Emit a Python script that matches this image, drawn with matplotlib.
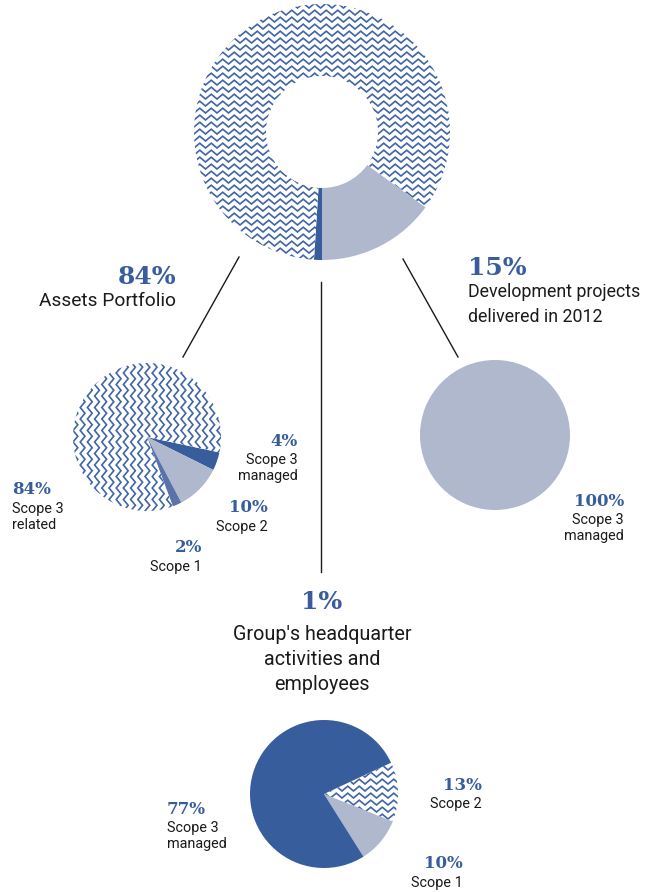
import numpy as np
import matplotlib
matplotlib.use("Agg")
from matplotlib import pyplot as plt
from matplotlib.lines import Line2D

W, H = 655, 892

DARK = "#385d9c"
MID = "#5a72aa"
GREY = "#b0b8ce"
ZIG = "#4065a5"
INK = "#1a1a1a"

# overall split of the footprint
total_shares = [1, 15, 84]          # headquarter, development, assets
# assets portfolio breakdown (clockwise from the right)
assets_shares = [4, 10, 2, 84]      # scope 3 managed, scope 2, scope 1, scope 3 related
# development projects
dev_shares = [100]
# headquarter breakdown (clockwise)
hq_shares = [13, 10, 77]            # scope 2, scope 1, scope 3 managed

fig = plt.figure(figsize=(W / 100, H / 100), dpi=100)
ax = fig.add_axes([0, 0, 1, 1])


def py(y):
    # pixel row -> axis coordinate
    return H - y


def zigzag(wedge, x0, x1, y0, y1, gap=7.0, period=11.5, amp=4.8, vertical=False):
    wedge.set_facecolor("white")
    t = np.arange(0, (y1 - y0 if vertical else x1 - x0) + period, period / 2)
    off = np.where(np.arange(len(t)) % 2 == 0, 0.0, amp)
    if vertical:
        for c in np.arange(x0, x1 + gap, gap):
            ln = Line2D(c + off, y0 + t, color=ZIG, lw=1.2, solid_joinstyle="miter")
            ax.add_line(ln)
            ln.set_clip_path(wedge)
    else:
        for r in np.arange(y0, y1 + gap, gap):
            ln = Line2D(x0 + t, r + off, color=ZIG, lw=1.2, solid_joinstyle="miter")
            ax.add_line(ln)
            ln.set_clip_path(wedge)


# top donut
cx, cy, r = 322, py(132), 128
w_top, _ = ax.pie(total_shares, colors=[DARK, GREY, "white"], startangle=-90 - 3.6,
                  counterclock=True, center=(cx, cy), radius=r,
                  wedgeprops=dict(width=72, linewidth=0))
zigzag(w_top[2], cx - r, cx + r, cy - r, cy + r)

# assets portfolio pie
cx, cy, r = 147, py(437), 74
w_as, _ = ax.pie(assets_shares, colors=[DARK, GREY, MID, "white"], startangle=-12,
                 counterclock=False, center=(cx, cy), radius=r,
                 wedgeprops=dict(linewidth=0))
zigzag(w_as[3], cx - r, cx + r, cy - r, cy + r, gap=7.2, vertical=True)

# development projects pie
ax.pie(dev_shares, colors=[GREY], center=(495, py(435)), radius=75,
       wedgeprops=dict(linewidth=0))

# headquarter pie
cx, cy, r = 324, py(794), 74
w_hq, _ = ax.pie(hq_shares, colors=["white", GREY, DARK], startangle=25,
                 counterclock=False, center=(cx, cy), radius=r,
                 wedgeprops=dict(linewidth=0))
zigzag(w_hq[0], cx - r, cx + r, cy - r, cy + r)

# connector lines
for (xa, ya), (xb, yb) in [((239, 257), (183, 357)), ((321, 282), (321, 572)),
                           ((403, 259), (458, 357))]:
    ax.plot([xa, xb], [py(ya), py(yb)], color=INK, lw=1.0)

PCT = dict(family="DejaVu Serif", weight="bold", color=DARK, va="center")
TXT = dict(family="Roboto", color=INK, va="center")


def label(x, y, pct, lines, ha, big=False, step=16, size=13.8):
    ax.text(x, py(y), f"{pct}%", ha=ha, fontsize=18 if big else 12, **PCT)
    for i, s in enumerate(lines):
        ax.text(x, py(y + (24 if big else 19) + i * step), s, ha=ha,
                fontsize=size if big else 10.4, **TXT)


label(176, 277, total_shares[2], ["Assets Portfolio"], "right", big=True)
label(468, 268, total_shares[1], ["Development projects", "delivered in 2012"], "left",
      big=True, step=25, size=12.8)
ax.text(322, py(602), f"{total_shares[0]}%", ha="center", fontsize=18, **PCT)
for i, s in enumerate(["Group's headquarter", "activities and", "employees"]):
    ax.text(322, py(635 + i * 24.5), s, ha="center", fontsize=14.2, **TXT)

label(298, 441, assets_shares[0], ["Scope 3", "managed"], "right")
label(268, 508, assets_shares[1], ["Scope 2"], "right")
label(202, 548, assets_shares[2], ["Scope 1"], "right")
label(12, 490, assets_shares[3], ["Scope 3", "related"], "left")

label(624, 501, dev_shares[0], ["Scope 3", "managed"], "right")

label(482, 785, hq_shares[0], ["Scope 2"], "right")
label(463, 864, hq_shares[1], ["Scope 1"], "right")
label(167, 809, hq_shares[2], ["Scope 3", "managed"], "left")

ax.set_xlim(0, W)
ax.set_ylim(0, H)
ax.set_aspect("equal")
ax.axis("off")

fig.savefig("out.png", dpi=100, facecolor="white")
